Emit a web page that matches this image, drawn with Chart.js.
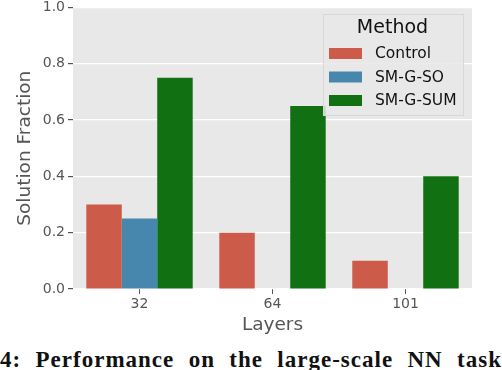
<!DOCTYPE html>
<html>
<head>
<meta charset="utf-8">
<script src="https://cdn.jsdelivr.net/npm/chart.js@4"></script>
<style>
  html, body { margin: 0; padding: 0; background: #fff; }
  #wrap { position: relative; width: 502px; height: 370px; overflow: hidden; }
  #chart { position: absolute; left: 0; top: -4px; }
  #caption {
    position: absolute; left: 0; top: 346px; width: 502px;
    font-family: "Liberation Serif", "DejaVu Serif", serif; font-weight: bold;
    font-size: 23px; line-height: 28px; color: #111; letter-spacing: 1px;
    text-align: justify; text-align-last: justify; white-space: nowrap;
  }
</style>
</head>
<body>
<div id="wrap">
  <canvas id="chart" width="502" height="340"></canvas>
  <div id="caption">4: Performance on the large-scale NN task</div>
</div>
<script>
const layers = ["32", "64", "101"];
const controlVals = [0.3, 0.2, 0.1];
const soVals = [0.25, 0, 0];
const sumVals = [0.75, 0.65, 0.4];
const methodNames = ["Control", "SM-G-SO", "SM-G-SUM"];
const methodColors = ["#cd5b4a", "#4787ad", "#117011"];

const tickFont = { family: "'DejaVu Sans', sans-serif", size: 14 };
const titleFont = { family: "'DejaVu Sans', sans-serif", size: 18.5 };
const grey = "#555555";

// grey panel behind the bars
const panelBg = {
  id: "panelBg",
  beforeDraw(chart) {
    const { ctx, chartArea: a } = chart;
    ctx.save();
    ctx.fillStyle = "#e8e8e8";
    ctx.fillRect(a.left, a.top, a.right - a.left, a.bottom - a.top);
    ctx.restore();
  }
};

// legend box inside the plot, top right (canvas is shifted up 4px)
const innerLegend = {
  id: "innerLegend",
  afterDraw(chart) {
    const { ctx, chartArea: a } = chart;
    const x = a.right - 149, y = 18, w = 141, h = 102;
    ctx.save();
    ctx.fillStyle = "rgba(232,232,232,0.85)";
    ctx.strokeStyle = "#d8d8d8";
    ctx.lineWidth = 1;
    ctx.fillRect(x, y, w, h);
    ctx.strokeRect(x + 0.5, y + 0.5, w - 1, h - 1);
    ctx.fillStyle = "#111";
    ctx.font = "19px 'DejaVu Sans', sans-serif";
    ctx.textAlign = "center";
    ctx.textBaseline = "middle";
    ctx.fillText("Method", x + w / 2 - 1, y + 14);
    ctx.font = "15.5px 'DejaVu Sans', sans-serif";
    ctx.textAlign = "left";
    chart.data.datasets.forEach((ds, i) => {
      const ry = y + 39 + i * 23.5;
      ctx.fillStyle = ds.backgroundColor;
      ctx.fillRect(x + 6, ry - 5, 33, 11);
      ctx.fillStyle = "#111";
      ctx.fillText(ds.label, x + 52, ry + 1);
    });
    ctx.restore();
  }
};

new Chart(document.getElementById("chart"), {
  type: "bar",
  data: {
    labels: layers,
    datasets: [
      { label: methodNames[0], data: controlVals, backgroundColor: methodColors[0] },
      { label: methodNames[1], data: soVals, backgroundColor: methodColors[1] },
      { label: methodNames[2], data: sumVals, backgroundColor: methodColors[2] }
    ]
  },
  options: {
    responsive: false,
    animation: false,
    layout: { padding: { top: 0, right: 30, left: 0, bottom: 0 } },
    datasets: { bar: { categoryPercentage: 0.8, barPercentage: 1.0 } },
    plugins: { legend: { display: false }, tooltip: { enabled: false } },
    scales: {
      x: {
        grid: { display: true, offset: false, drawOnChartArea: false, tickLength: 5, tickColor: grey },
        border: { display: false },
        ticks: { color: grey, font: tickFont, padding: 2 },
        title: { display: true, text: "Layers", color: grey, font: titleFont, padding: 0 },
        afterFit(scale) { scale.height = 47; }
      },
      y: {
        min: 0, max: 1,
        grid: { color: "#ffffff", lineWidth: 1.2, tickLength: 5, tickColor: grey },
        border: { display: false },
        ticks: { stepSize: 0.2, color: grey, font: tickFont, padding: 3,
          callback: v => v.toFixed(1) },
        title: { display: true, text: "Solution Fraction", color: grey, font: titleFont,
          padding: { top: 14, bottom: 0 } },
        afterFit(scale) { scale.width = 73; }
      }
    }
  },
  plugins: [panelBg, innerLegend]
});
</script>
</body>
</html>
